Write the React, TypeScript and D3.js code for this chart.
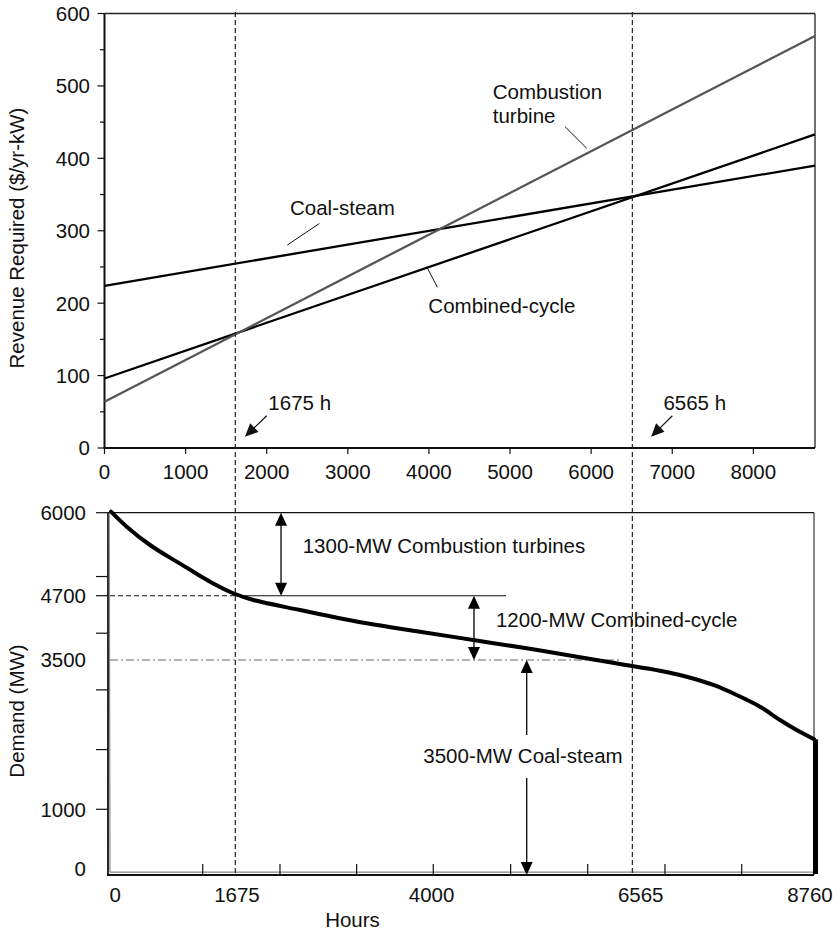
import React from "react";
import * as d3 from "d3";

// ---------- data: top chart (revenue requirement vs hours of use) ----------
const TOP_HOUR_TICKS = [0, 1000, 2000, 3000, 4000, 5000, 6000, 7000, 8000];
const REV_TICKS = [0, 100, 200, 300, 400, 500, 600];
const REV_MINOR_TICKS = [50, 150, 250, 350, 450, 550];
const LINE_HOURS = [0, 8760];
const COAL_REV = [224, 390];
const CC_REV = [96, 433];
const CT_REV = [64, 569];
const CROSS_HOURS = [1613, 6508];
const CROSS_LABELS = ["1675 h", "6565 h"];

// ---------- data: bottom chart (load duration curve) ----------
const LDC_HOURS = [37, 232, 521, 852, 1058, 1266, 1555, 1803, 2382, 3210, 3871, 4533, 5195, 5857, 6353, 6849, 7180, 7510, 7801, 8090, 8338, 8545, 8760];
const LDC_MW = [6016, 5781, 5494, 5233, 5076, 4920, 4738, 4620, 4434, 4185, 4028, 3873, 3718, 3550, 3433, 3321, 3220, 3082, 2914, 2718, 2496, 2328, 2175];
const DEMAND_TICKS = [6000, 5000, 4700, 4000, 3000, 2000, 1000];
const DEMAND_LABELS = [6000, 4700, 3500, 1000, 0];
const BOTTOM_HOUR_TICKS = [1175, 2134, 3085, 4036, 4996, 5952, 6911, 7863];
const BOTTOM_HOUR_LABELS = ["0", "1675", "4000", "6565", "8760"];
const BOTTOM_HOUR_LABEL_AT = [90, 1600, 4015, 6610, 8710];
const BLOCKS = [
  { label: "1300-MW Combustion turbines", from: 6000, to: 4700, at: 2147, textH: 2416, textMW: 5374 },
  { label: "1200-MW Combined-cycle", from: 4700, to: 3500, at: 4541, textH: 4814, textMW: 4107 },
];

const FONT = "'Liberation Sans', Arial, Helvetica, sans-serif";
const FS = 20.5;

function head(tx: number, ty: number, fx: number, fy: number, len = 13, w = 12) {
  const dx = tx - fx, dy = ty - fy;
  const L = Math.hypot(dx, dy) || 1;
  const ux = dx / L, uy = dy / L;
  const bx = tx - ux * len, by = ty - uy * len;
  const px = -uy * w / 2, py = ux * w / 2;
  return `${tx},${ty} ${bx + px},${by + py} ${bx - px},${by - py}`;
}

export default function App() {
  // scales
  const xT = d3.scaleLinear().domain([0, 8760]).range([104.5, 815]);
  const yT = d3.scaleLinear().domain([0, 600]).range([448, 13.5]);
  const xB = d3.scaleLinear().domain([0, 8760]).range([108, 814]);
  const yB = d3.scaleLinear().domain([-110, 0, 1000, 3500, 4700, 6000]).range([875, 868.6, 809.3, 660, 595.7, 512.7]);

  const lineT = d3.line<[number, number]>().x(d => xT(d[0])).y(d => yT(d[1]));
  const series = [
    { v: COAL_REV, color: "#000", w: 2.3 },
    { v: CC_REV, color: "#000", w: 2.3 },
    { v: CT_REV, color: "#555", w: 2.3 },
  ];

  const ldc = d3.line<[number, number]>().x(d => xB(d[0])).y(d => yB(d[1])).curve(d3.curveCatmullRom.alpha(0.5));
  const ldcPts: [number, number][] = LDC_HOURS.map((h, i) => [h, LDC_MW[i]]);
  const outline: [number, number][] = [[15, 6000], [25, -60], [8760, -60]];
  const lineB = d3.line<[number, number]>().x(d => xB(d[0])).y(d => yB(d[1]));

  const tText = { fontFamily: FONT, fontSize: FS, fill: "#111" } as const;

  // top annotation positions (data units)
  const coalLbl = { h: 2287, v: 321.7, l1: [2254, 280.3], l2: [2649, 310] };
  const ctLbl = { h: 4787, v1: 482, v2: 449, l1: [5678, 443.7], l2: [5946, 413.8] };
  const ccLbl = { h: 3993, v: 186.8, l1: [4104, 221.9], l2: [3973, 250.3] };
  const crossAnn = [
    { h: 2020, v: 52.5, from: [2000, 44.6], tip: [1732, 15.6] },
    { h: 6891, v: 52.5, from: [7001, 44.6], tip: [6739, 15.6] },
  ];

  const coalArrow = { at: 5195, top: 3500, bot: -110, gapTop: 2244, gapBot: 1525, textH: 3912, textMW: 1776 };

  return (
    <svg width={840} height={931} style={{ position: "absolute", left: 0, top: 0, background: "#fff" }}>
      <rect x={0} y={0} width={840} height={931} fill="#fff" />

      {/* ===== TOP CHART ===== */}
      <g>
        <line x1={xT(0)} x2={xT(8760)} y1={yT(600)} y2={yT(600)} stroke="#222" strokeWidth={1.3} />
        <line x1={xT(8760)} x2={xT(8760)} y1={yT(600)} y2={yT(0)} stroke="#222" strokeWidth={1.3} />
        <line x1={xT(0)} x2={xT(0)} y1={yT(600)} y2={yT(0)} stroke="#111" strokeWidth={2} />
        <line x1={xT(0) - 1} x2={xT(8760)} y1={yT(0)} y2={yT(0)} stroke="#111" strokeWidth={2} />
        {REV_TICKS.map(t => (
          <g key={"ry" + t}>
            <line x1={xT(0) - 7} x2={xT(0)} y1={yT(t)} y2={yT(t)} stroke="#111" strokeWidth={1.2} />
            <text x={90} y={yT(t)} dy="0.36em" textAnchor="end" {...tText}>{t}</text>
          </g>
        ))}
        {REV_MINOR_TICKS.map(t => (
          <line key={"rm" + t} x1={xT(0) - 4.5} x2={xT(0)} y1={yT(t)} y2={yT(t)} stroke="#111" strokeWidth={1.2} />
        ))}
        {TOP_HOUR_TICKS.map(t => (
          <g key={"tx" + t}>
            <line x1={xT(t)} x2={xT(t)} y1={yT(0)} y2={yT(0) + 6} stroke="#111" strokeWidth={1.2} />
            <text x={xT(t)} y={472} dy="0.36em" textAnchor="middle" {...tText}>{t}</text>
          </g>
        ))}
        <text transform={`translate(17,238) rotate(-90)`} dy="0.36em" textAnchor="middle" {...tText}>Revenue Required ($/yr-kW)</text>

        {series.map((s, i) => (
          <path key={"s" + i} d={lineT(LINE_HOURS.map((h, j) => [h, s.v[j]] as [number, number])) || ""} fill="none" stroke={s.color} strokeWidth={s.w} />
        ))}

        <text x={xT(coalLbl.h)} y={yT(coalLbl.v)} {...tText}>Coal-steam</text>
        <line x1={xT(coalLbl.l1[0])} y1={yT(coalLbl.l1[1])} x2={xT(coalLbl.l2[0])} y2={yT(coalLbl.l2[1])} stroke="#111" strokeWidth={1} />
        <text x={xT(ctLbl.h)} y={yT(ctLbl.v1)} {...tText}>Combustion</text>
        <text x={xT(ctLbl.h)} y={yT(ctLbl.v2)} {...tText}>turbine</text>
        <line x1={xT(ctLbl.l1[0])} y1={yT(ctLbl.l1[1])} x2={xT(ctLbl.l2[0])} y2={yT(ctLbl.l2[1])} stroke="#111" strokeWidth={1} />
        <text x={xT(ccLbl.h)} y={yT(ccLbl.v)} {...tText}>Combined-cycle</text>
        <line x1={xT(ccLbl.l1[0])} y1={yT(ccLbl.l1[1])} x2={xT(ccLbl.l2[0])} y2={yT(ccLbl.l2[1])} stroke="#111" strokeWidth={1} />

        {crossAnn.map((a, i) => {
          const fx = xT(a.from[0]), fy = yT(a.from[1]), tx = xT(a.tip[0]), ty = yT(a.tip[1]);
          return (
            <g key={"ca" + i}>
              <text x={xT(a.h)} y={yT(a.v)} {...tText}>{CROSS_LABELS[i]}</text>
              <line x1={fx} y1={fy} x2={tx + (fx - tx) * 0.4} y2={ty + (fy - ty) * 0.4} stroke="#111" strokeWidth={1.2} />
              <polygon points={head(tx, ty, fx, fy, 13, 12)} fill="#111" />
            </g>
          );
        })}
      </g>

      {/* ===== BOTTOM CHART ===== */}
      <g>
        <line x1={xB(0)} x2={xB(8760)} y1={yB(6000)} y2={yB(6000)} stroke="#111" strokeWidth={1.2} />
        <line x1={xB(8760)} x2={xB(8760)} y1={yB(6000)} y2={yB(-110)} stroke="#111" strokeWidth={1} />
        <line x1={xB(0)} x2={xB(0)} y1={yB(6000)} y2={yB(-110)} stroke="#111" strokeWidth={1.8} />
        <line x1={xB(0) - 1} x2={xB(8760)} y1={yB(-110)} y2={yB(-110)} stroke="#111" strokeWidth={2} />
        <path d={lineB(outline) || ""} fill="none" stroke="#888" strokeWidth={1.2} />

        {DEMAND_TICKS.map(t => (
          <line key={"dt" + t} x1={xB(0) - 12} x2={xB(0)} y1={yB(t)} y2={yB(t)} stroke="#111" strokeWidth={1.2} />
        ))}
        {DEMAND_LABELS.map(t => (
          <text key={"dl" + t} x={86} y={yB(t)} dy="0.36em" textAnchor="end" {...tText}>{t}</text>
        ))}
        {BOTTOM_HOUR_TICKS.map(t => (
          <line key={"bt" + t} x1={xB(t)} x2={xB(t)} y1={yB(-110)} y2={yB(-110) - 11} stroke="#111" strokeWidth={1.2} />
        ))}
        {BOTTOM_HOUR_LABELS.map((l, i) => (
          <text key={"bl" + l} x={xB(BOTTOM_HOUR_LABEL_AT[i])} y={895} dy="0.36em" textAnchor="middle" {...tText}>{l}</text>
        ))}
        <text x={352.5} y={920} dy="0.36em" textAnchor="middle" {...tText}>Hours</text>
        <text transform={`translate(17,711) rotate(-90)`} dy="0.36em" textAnchor="middle" {...tText}>Demand (MW)</text>

        <line x1={xB(25)} x2={xB(1588)} y1={yB(4700)} y2={yB(4700)} stroke="#111" strokeWidth={1.1} strokeDasharray="5,3" />
        <line x1={xB(1588)} x2={xB(4938)} y1={yB(4700)} y2={yB(4700)} stroke="#111" strokeWidth={1.1} />
        <line x1={xB(25)} x2={xB(6353)} y1={yB(3500)} y2={yB(3500)} stroke="#666" strokeWidth={1.1} strokeDasharray="8,3,2,3" />

        <path d={ldc(ldcPts) || ""} fill="none" stroke="#000" strokeWidth={4} strokeLinecap="round" />
        <line x1={xB(8760) + 1.5} x2={xB(8760) + 1.5} y1={yB(LDC_MW[LDC_MW.length - 1])} y2={yB(-110) - 1} stroke="#000" strokeWidth={5} />

        {BLOCKS.map((b, i) => {
          const x = xB(b.at), y1 = yB(b.from), y2 = yB(b.to);
          return (
            <g key={"blk" + i}>
              <line x1={x} x2={x} y1={y1 + 10} y2={y2 - 10} stroke="#111" strokeWidth={1.4} />
              <polygon points={head(x, y1, x, y2, 13, 12)} fill="#000" />
              <polygon points={head(x, y2, x, y1, 13, 12)} fill="#000" />
              <text x={xB(b.textH)} y={yB(b.textMW)} {...tText}>{b.label}</text>
            </g>
          );
        })}
        {(() => {
          const x = xB(coalArrow.at), yt = yB(coalArrow.top), yb = yB(coalArrow.bot);
          return (
            <g>
              <line x1={x} x2={x} y1={yt + 10} y2={yB(coalArrow.gapTop)} stroke="#111" strokeWidth={1.4} />
              <line x1={x} x2={x} y1={yB(coalArrow.gapBot)} y2={yb - 10} stroke="#111" strokeWidth={1.4} />
              <polygon points={head(x, yt, x, yb, 13, 12)} fill="#000" />
              <polygon points={head(x, yb, x, yt, 13, 12)} fill="#000" />
              <text x={xB(coalArrow.textH)} y={yB(coalArrow.textMW)} {...tText}>3500-MW Coal-steam</text>
            </g>
          );
        })()}
      </g>

      {CROSS_HOURS.map(h => (
        <line key={"cv" + h} x1={xT(h)} x2={xT(h)} y1={12} y2={874} stroke="#222" strokeWidth={1.2} strokeDasharray="5,3" />
      ))}
    </svg>
  );
}
